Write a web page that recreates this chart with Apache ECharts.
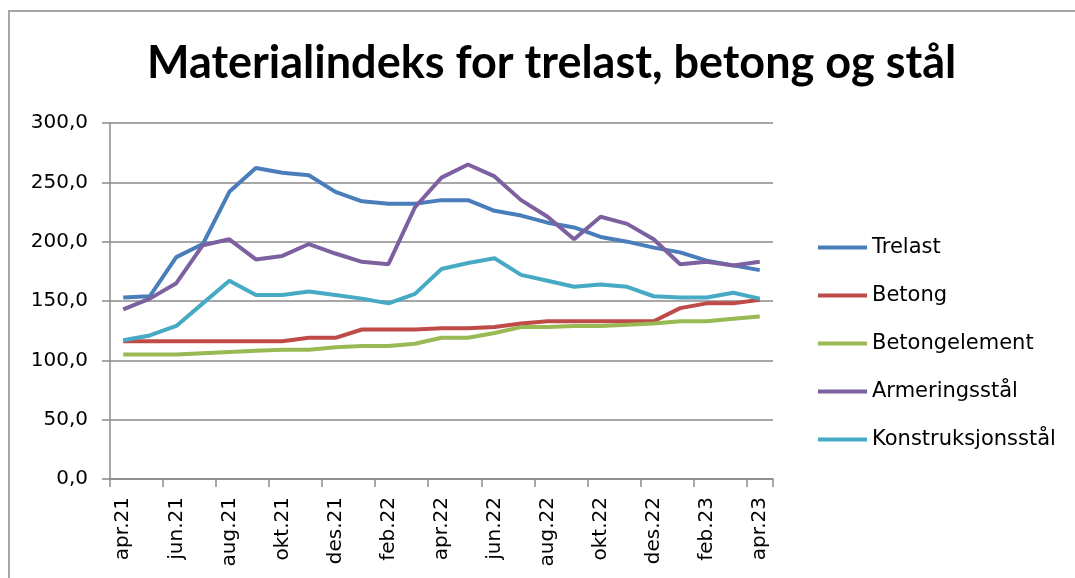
<!DOCTYPE html>
<html>
<head>
<meta charset="utf-8">
<script src="https://cdn.jsdelivr.net/npm/echarts@6/dist/echarts.min.js"></script>
<style>
  html, body { margin: 0; padding: 0; background: #fff; }
  #chart { width: 1075px; height: 578px; }
</style>
</head>
<body>
<div id="chart"></div>
<script>
// månedene, april 2021 - april 2023
let months = ['apr.21','mai.21','jun.21','jul.21','aug.21','sep.21','okt.21','nov.21','des.21',
  'jan.22','feb.22','mar.22','apr.22','mai.22','jun.22','jul.22','aug.22','sep.22','okt.22','nov.22','des.22',
  'jan.23','feb.23','mar.23','apr.23'];

let trelast = [153,154,187,198,242,262,258,256,242,234,232,232,235,235,226,222,216,212,204,200,195,191,184,180,176];
let betong = [116,116,116,116,116,116,116,119,119,126,126,126,127,127,128,131,133,133,133,133,133,144,148,148,151];
let betongelement = [105,105,105,106,107,108,109,109,111,112,112,114,119,119,123,128,128,129,129,130,131,133,133,135,137];
let armeringsstal = [143,152,165,197,202,185,188,198,190,183,181,229,254,265,255,235,221,202,221,215,202,181,183,180,183];
let konstruksjonsstal = [117,121,129,148,167,155,155,158,155,152,148,156,177,182,186,172,167,162,164,162,154,153,153,157,152];

let yTicks = [0, 50, 100, 150, 200, 250, 300];

let chart = echarts.init(document.getElementById('chart'));

function line(name, data, color) {
  return {
    name: name,
    type: 'line',
    data: data,
    showSymbol: false,
    symbol: 'none',
    lineStyle: { width: 4, color: color },
    itemStyle: { color: color }
  };
}

let option = {
  animation: false,
  title: {
    text: 'Materialindeks for trelast, betong og stål',
    left: 142,
    top: 36,
    textStyle: {
      fontFamily: 'Lato',
      fontWeight: 'bold',
      fontSize: 45,
      color: '#000'
    }
  },
  graphic: [{
    type: 'rect',
    shape: { x: 9, y: 11, width: 1120, height: 620 },
    style: { fill: 'none', stroke: '#a6a6a6', lineWidth: 2 },
    silent: true
  }],
  legend: {
    orient: 'vertical',
    left: 813,
    top: 231,
    itemWidth: 49,
    itemHeight: 4,
    itemGap: 25,
    icon: 'rect',
    textStyle: {
      fontFamily: 'DejaVu Sans',
      fontSize: 21,
      lineHeight: 23,
      color: '#000'
    },
    data: ['Trelast','Betong','Betongelement','Armeringsstål','Konstruksjonsstål']
  },
  grid: {
    left: 110,
    right: 302,
    top: 123,
    bottom: 99,
    containLabel: false
  },
  xAxis: {
    type: 'category',
    boundaryGap: true,
    data: months,
    axisLine: { lineStyle: { color: '#8a8a8a', width: 1.5 } },
    axisTick: {
      show: true,
      interval: 1,
      length: 8,
      lineStyle: { color: '#8a8a8a', width: 1.5 }
    },
    axisLabel: {
      interval: 1,
      rotate: 90,
      margin: 18,
      fontFamily: 'DejaVu Sans',
      fontSize: 20,
      color: '#000'
    }
  },
  yAxis: {
    type: 'value',
    min: yTicks[0],
    max: yTicks[yTicks.length - 1],
    interval: 50,
    axisLine: { show: true, lineStyle: { color: '#8a8a8a', width: 1.5 } },
    axisTick: { show: true, length: 8, lineStyle: { color: '#8a8a8a', width: 1.5 } },
    axisLabel: {
      margin: 22,
      fontFamily: 'DejaVu Sans',
      fontSize: 20,
      color: '#000',
      formatter: function (v) { return v.toFixed(1).replace('.', ','); }
    },
    splitLine: { show: true, lineStyle: { color: '#8a8a8a', width: 1.5 } }
  },
  series: [
    line('Trelast', trelast, '#4a7ebb'),
    line('Betong', betong, '#be4b48'),
    line('Betongelement', betongelement, '#98b954'),
    line('Armeringsstål', armeringsstal, '#7d60a0'),
    line('Konstruksjonsstål', konstruksjonsstal, '#46aac5')
  ]
};

chart.setOption(option);
</script>
</body>
</html>
